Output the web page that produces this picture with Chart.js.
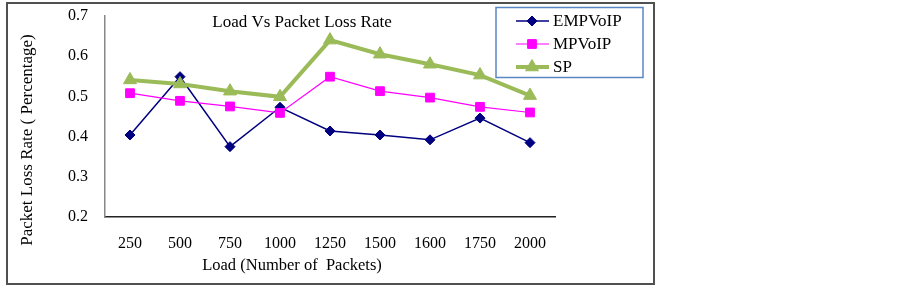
<!DOCTYPE html>
<html>
<head>
<meta charset="utf-8">
<script src="https://cdn.jsdelivr.net/npm/chart.js@4/dist/chart.umd.min.js"></script>
<style>
  html, body { margin: 0; padding: 0; background: #fff; }
  #wrap { position: relative; width: 903px; height: 287px; }
</style>
</head>
<body>
<div id="wrap"><canvas id="c" width="903" height="287"></canvas></div>
<script>
const categories = ['250', '500', '750', '1000', '1250', '1500', '1600', '1750', '2000'];
const empvoip = [0.404, 0.549, 0.375, 0.473, 0.414, 0.404, 0.392, 0.446, 0.385];
const mpvoip  = [0.508, 0.489, 0.475, 0.459, 0.549, 0.513, 0.497, 0.474, 0.460];
const sp      = [0.541, 0.531, 0.513, 0.499, 0.640, 0.605, 0.580, 0.553, 0.502];
const seriesNames = ['EMPVoIP', 'MPVoIP', 'SP'];
const chartTitle = 'Load Vs Packet Loss Rate';
const xTitle = 'Load (Number of  Packets)';
const yTitle = 'Packet Loss Rate ( Percentage)';

const SERIF = '"Liberation Serif", "DejaVu Serif", serif';

const decor = {
  id: 'decor',
  beforeDraw(chart) {
    const ctx = chart.ctx;
    ctx.save();
    ctx.fillStyle = '#fff';
    ctx.fillRect(0, 0, chart.width, chart.height);
    ctx.strokeStyle = '#505050';
    ctx.lineWidth = 2;
    ctx.strokeRect(7, 3, 647, 281);
    ctx.restore();
  },
  afterDraw(chart) {
    const ctx = chart.ctx;
    ctx.save();
    ctx.fillStyle = '#000';
    ctx.textAlign = 'center';
    ctx.textBaseline = 'middle';
    ctx.font = '17px ' + SERIF;
    ctx.fillText(chartTitle, 302, 23);
    ctx.font = '16.5px ' + SERIF;
    ctx.fillText(xTitle, 292, 266);
    ctx.font = '17px ' + SERIF;
    ctx.translate(28, 140);
    ctx.rotate(-Math.PI / 2);
    ctx.fillText(yTitle, 0, 0);
    ctx.restore();

    // legend
    ctx.save();
    ctx.strokeStyle = '#5B86C4';
    ctx.lineWidth = 1.5;
    ctx.strokeRect(496, 7.5, 147, 70);
    const ys = [21, 44, 67];
    chart.data.datasets.forEach((ds, i) => {
      const y = ys[i];
      ctx.strokeStyle = ds.borderColor;
      ctx.lineWidth = ds.borderWidth;
      ctx.beginPath();
      ctx.moveTo(516, y);
      ctx.lineTo(549, y);
      ctx.stroke();
      ctx.fillStyle = ds.pointBackgroundColor;
      ctx.strokeStyle = ds.pointBackgroundColor;
      ctx.lineWidth = 1;
      Chart.helpers.drawPoint(ctx, {pointStyle: ds.pointStyle, radius: ds.pointRadius, borderWidth: 1}, 532, y);
      ctx.fillStyle = '#000';
      ctx.font = '17px ' + SERIF;
      ctx.textAlign = 'left';
      ctx.textBaseline = 'middle';
      ctx.fillText(ds.label, 553, y + 1);
    });
    ctx.restore();
  }
};

new Chart(document.getElementById('c'), {
  type: 'line',
  data: {
    labels: categories,
    datasets: [
      {
        label: seriesNames[0], data: empvoip,
        borderColor: '#000080', backgroundColor: '#000080',
        pointBackgroundColor: '#000080', pointBorderColor: '#000080',
        borderWidth: 1.5, pointStyle: 'rectRot', pointRadius: 5, pointBorderWidth: 1,
        tension: 0, order: 3
      },
      {
        label: seriesNames[1], data: mpvoip,
        borderColor: '#FF00FF', backgroundColor: '#FF00FF',
        pointBackgroundColor: '#FF00FF', pointBorderColor: '#FF00FF',
        borderWidth: 1.2, pointStyle: 'rect', pointRadius: 6.2, pointBorderWidth: 1,
        tension: 0, order: 2
      },
      {
        label: seriesNames[2], data: sp,
        borderColor: '#9BBB59', backgroundColor: '#9BBB59',
        pointBackgroundColor: '#9BBB59', pointBorderColor: '#9BBB59',
        borderWidth: 4, pointStyle: 'triangle', pointRadius: 7.5, pointBorderWidth: 1,
        tension: 0, order: 1
      }
    ]
  },
  options: {
    responsive: false,
    animation: false,
    devicePixelRatio: 1,
    layout: { padding: { left: 0, right: 348, top: 16, bottom: 0 } },
    plugins: {
      legend: { display: false },
      title: { display: false },
      tooltip: { enabled: false }
    },
    scales: {
      x: {
        type: 'category',
        offset: true,
        grid: { display: false, drawTicks: false },
        border: { display: true, color: '#222', width: 1.5 },
        ticks: { color: '#000', font: { family: SERIF, size: 16 }, padding: 17, maxRotation: 0, autoSkip: false },
        afterFit(scale) { scale.height = 70; scale.paddingLeft = 0; scale.paddingRight = 0; }
      },
      y: {
        min: 0.2, max: 0.7,
        grid: { display: false, drawTicks: false },
        border: { display: true, color: '#888', width: 1.5 },
        ticks: {
          stepSize: 0.1, color: '#000', font: { family: SERIF, size: 16 }, padding: 17,
          callback: v => Number(v).toFixed(1)
        },
        afterFit(scale) { scale.width = 105; scale.paddingTop = 0; scale.paddingBottom = 0; }
      }
    }
  },
  plugins: [decor]
});
</script>
</body>
</html>
